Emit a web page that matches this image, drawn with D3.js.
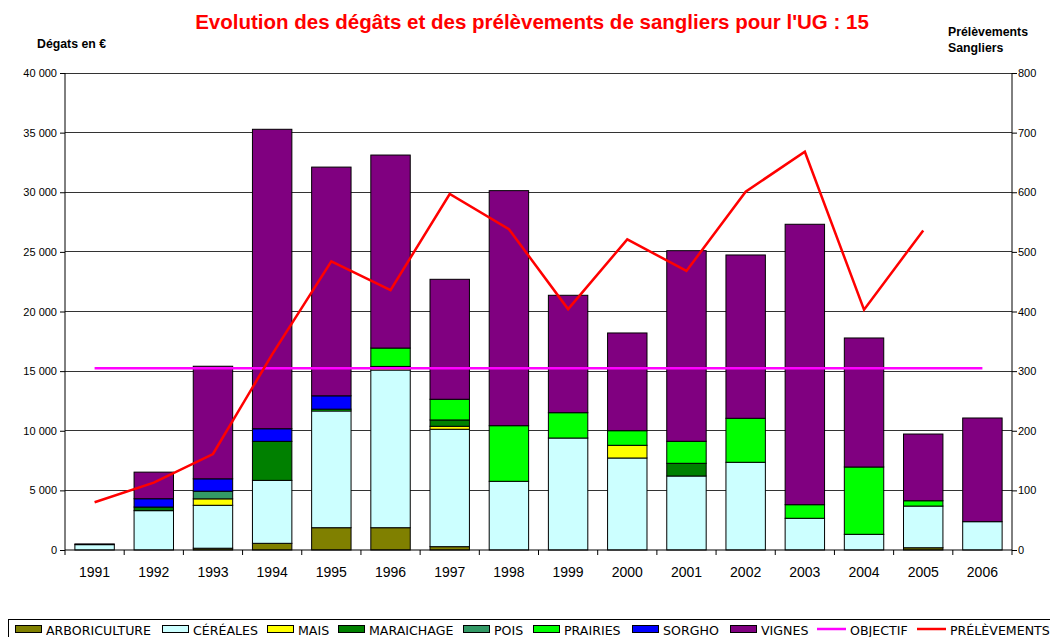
<!DOCTYPE html>
<html><head><meta charset="utf-8">
<script src="https://cdn.jsdelivr.net/npm/d3@7"></script>
<style>body{margin:0;background:#fff}svg{display:block}</style>
</head><body>
<svg id="c" width="1050" height="637"></svg>
<script>
const years = ["1991","1992","1993","1994","1995","1996","1997","1998","1999","2000","2001","2002","2003","2004","2005","2006"];
const arboriculture = [0,0,150,560,1870,1870,280,0,0,0,0,0,0,0,190,0];
const cereales = [450,3300,3600,5280,9790,13225,9845,5760,9390,7715,6205,7355,2660,1315,3495,2375];
const mais = [0,0,540,0,0,300,250,0,0,1065,0,0,0,0,0,0];
const maraichage = [0,300,0,3270,0,0,530,0,0,0,1065,0,0,0,0,0];
const pois = [0,0,640,0,0,0,0,0,0,0,0,0,0,0,0,0];
const prairies = [0,0,0,0,150,1540,1735,4665,2125,1225,1845,3690,1140,5645,445,0];
const sorgho = [0,700,1040,1060,1120,0,0,0,0,0,0,0,0,0,0,0];
const vignes = [60,2230,9440,25110,19180,16185,10060,19710,9845,8195,15985,13695,23515,10820,5595,8695];
const prelevements = [80,113,161,328,484,436,597,538,404,521,468,601,668,403,536,null];
const objectif = [305,305,305,305,305,305,305,305,305,305,305,305,305,305,305,305];
const leftTicks = [0,5000,10000,15000,20000,25000,30000,35000,40000];
const rightTicks = [0,100,200,300,400,500,600,700,800];

const seriesNames = ["ARBORICULTURE","CÉRÉALES","MAIS","MARAICHAGE","POIS","PRAIRIES","SORGHO","VIGNES"];
const seriesData = [arboriculture,cereales,mais,maraichage,pois,prairies,sorgho,vignes];
const seriesColors = ["#808000","#CCFFFF","#FFFF00","#008000","#339966","#00FF00","#0000FF","#800080"];

const svg = d3.select("#c");
const L = 65, R = 1012, T = 73, B = 550;
const x = d3.scaleBand().domain(years).range([L, R]).paddingInner(0.334).paddingOuter(0.167);
const y = d3.scaleLinear().domain([0, 40000]).range([B, T]);
const y2 = d3.scaleLinear().domain([0, 800]).range([B, T]);
const font = "'Liberation Sans', Arial, sans-serif";

// gridlines
svg.append("g").selectAll("line").data(leftTicks.filter(d => d > 0)).join("line")
  .attr("x1", L).attr("x2", R).attr("y1", d => y(d)).attr("y2", d => y(d))
  .attr("stroke", "#333").attr("stroke-width", 1).attr("shape-rendering", "crispEdges");

// stacked bars
const table = years.map((yr, i) => {
  const o = {year: yr};
  seriesNames.forEach((n, k) => o[n] = seriesData[k][i]);
  return o;
});
const stack = d3.stack().keys(seriesNames)(table);
stack.forEach((layer, k) => {
  svg.append("g").selectAll("rect").data(layer.filter(d => d[1] - d[0] > 0)).join("rect")
    .attr("x", d => x(d.data.year)).attr("width", x.bandwidth())
    .attr("y", d => y(d[1])).attr("height", d => y(d[0]) - y(d[1]))
    .attr("fill", seriesColors[k]).attr("stroke", "#000").attr("stroke-width", 1);
});

// axes
const axL = svg.append("g").attr("transform", `translate(${L},0)`)
  .call(d3.axisLeft(y).tickValues(leftTicks).tickSize(5).tickFormat(d => d3.format(",")(d).replace(/,/g, "\u00a0")));
const axR = svg.append("g").attr("transform", `translate(${R},0)`)
  .call(d3.axisRight(y2).tickValues(rightTicks).tickSize(5).tickFormat(d3.format("d")));
[axL, axR].forEach(a => {
  a.select(".domain").attr("stroke", "#000").attr("d", `M0,${T}V${B}`);
  a.selectAll("text").attr("font-family", font).attr("font-size", 11).attr("fill", "#000");
  a.selectAll(".tick line").attr("stroke", "#000");
});
axL.selectAll("text").attr("x", -8);
axR.selectAll("text").attr("x", 6);

// x axis
const xa = svg.append("g").attr("transform", `translate(0,${B})`);
xa.append("line").attr("x1", L).attr("x2", R).attr("y1", 0).attr("y2", 0).attr("stroke", "#000");
const step = x.step();
xa.selectAll("line.t").data(d3.range(years.length + 1)).join("line").attr("class", "t")
  .attr("x1", i => L + i * step).attr("x2", i => L + i * step).attr("y1", 0).attr("y2", 5).attr("stroke", "#000");
xa.selectAll("text").data(years).join("text")
  .attr("x", d => x(d) + x.bandwidth() / 2).attr("y", 27).attr("text-anchor", "middle")
  .attr("font-family", font).attr("font-size", 14).text(d => d);

// lines
const cx = d => x(d) + x.bandwidth() / 2;
const lineObj = d3.line().x((d, i) => cx(years[i])).y(d => y2(d));
svg.append("path").attr("d", lineObj(objectif)).attr("fill", "none").attr("stroke", "#FF00FF").attr("stroke-width", 2.5);
const linePre = d3.line().defined(d => d != null).x((d, i) => cx(years[i])).y(d => y2(d));
svg.append("path").attr("d", linePre(prelevements)).attr("fill", "none").attr("stroke", "#FF0000").attr("stroke-width", 2.5);

// titles
svg.append("text").attr("x", 532).attr("y", 29).attr("text-anchor", "middle")
  .attr("font-family", font).attr("font-weight", "bold").attr("font-size", 20.5).attr("fill", "#FF0000")
  .text("Evolution des dégâts et des prélèvements de sangliers pour l'UG : 15");
svg.append("text").attr("x", 37).attr("y", 48).attr("font-family", font).attr("font-weight", "bold").attr("font-size", 12.3).text("Dégats en €");
svg.append("text").attr("x", 948).attr("y", 36).attr("font-family", font).attr("font-weight", "bold").attr("font-size", 12.3).text("Prélèvements");
svg.append("text").attr("x", 948).attr("y", 52).attr("font-family", font).attr("font-weight", "bold").attr("font-size", 12.3).text("Sangliers");

// legend
svg.append("rect").attr("x", 8.5).attr("y", 619.5).attr("width", 1060).attr("height", 30).attr("fill", "none").attr("stroke", "#000");
const legItems = seriesNames.map((n, k) => ({name: n, color: seriesColors[k], type: "bar"}))
  .concat([{name: "OBJECTIF", color: "#FF00FF", type: "line"}, {name: "PRÉLÈVEMENTS", color: "#FF0000", type: "line"}]);
const legX = [15, 162, 267, 338, 463, 533, 632, 730, 817, 917];
const lg = svg.append("g");
legItems.forEach((it, i) => {
  const gx = legX[i];
  if (it.type === "bar") {
    lg.append("rect").attr("x", gx + 0.5).attr("y", 625.5).attr("width", 26).attr("height", 7).attr("fill", it.color).attr("stroke", "#000");
  } else {
    lg.append("line").attr("x1", gx).attr("x2", gx + 29).attr("y1", 629).attr("y2", 629).attr("stroke", it.color).attr("stroke-width", 2.5);
  }
  lg.append("text").attr("x", gx + (it.type === "bar" ? 31 : 33)).attr("y", 634.5)
    .attr("font-family", "'DejaVu Sans',sans-serif").attr("font-size", 12.6).text(it.name);
});
</script>
</body></html>
